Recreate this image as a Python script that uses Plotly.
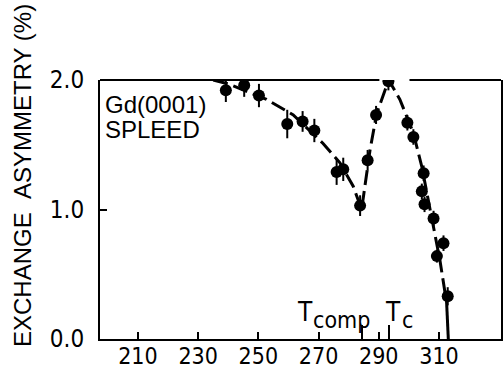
import plotly.graph_objects as go

# measured data points (temperature K, exchange asymmetry %)
temperature = [239.2, 245.3, 250.2, 259.6, 264.7, 268.6, 276.0, 278.2, 283.8, 286.3,
               289.1, 293.2, 299.5, 301.5, 304.9, 304.3, 305.2, 308.2, 311.5, 309.3, 312.9]
asymmetry = [1.92, 1.96, 1.88, 1.66, 1.68, 1.61, 1.29, 1.31, 1.03, 1.38,
             1.73, 1.99, 1.67, 1.56, 1.28, 1.14, 1.04, 0.93, 0.74, 0.64, 0.33]
error = [0.09, 0.09, 0.09, 0.11, 0.08, 0.09, 0.10, 0.09, 0.08, 0.08,
         0.07, 0.07, 0.06, 0.06, 0.06, 0.06, 0.06, 0.06, 0.06, 0.05, 0.07]

# dashed guide curve
curve_t = [235.0, 240.0, 252.7, 261.6, 271.5, 277.1, 281.5, 284.3, 285.4, 287.1,
           289.3, 293.3, 297.0, 301.5, 304.3, 306.5, 308.7, 310.3, 312.0, 312.5]
curve_a = [2.00, 1.97, 1.85, 1.73, 1.51, 1.36, 1.18, 1.00, 1.18, 1.46,
           1.74, 2.00, 1.85, 1.59, 1.33, 1.07, 0.82, 0.61, 0.36, 0.30]
tail_t = [312.5, 312.9, 313.1]
tail_a = [0.30, 0.15, 0.0]

x_ticks = [210, 230, 250, 270, 290, 310]
x_ticklabels = ["210", "230", "250", "270", "290", "310"]
y_ticks = [0.0, 1.0, 2.0]
y_ticklabels = ["0.0", "1.0", "2.0"]
t_comp = 284.5
t_c = 293.3

NARROW = "Liberation Sans Narrow, Arial Narrow, DejaVu Sans Condensed, sans-serif"
SANS = "Liberation Sans, Arial, Helvetica, sans-serif"


def px_x(px):
    return (px - 100) / 401.0


def px_y(py):
    return (339 - py) / 259.0


fig = go.Figure()
fig.add_trace(go.Scatter(x=curve_t, y=curve_a, mode="lines",
                         line=dict(color="black", width=3, dash="15px,6px"),
                         hoverinfo="skip", showlegend=False))
fig.add_trace(go.Scatter(x=tail_t, y=tail_a, mode="lines",
                         line=dict(color="black", width=3),
                         hoverinfo="skip", showlegend=False))
fig.add_trace(go.Scatter(x=temperature, y=asymmetry, mode="markers",
                         marker=dict(color="black", size=12),
                         error_y=dict(type="data", array=error, color="black",
                                      thickness=2, width=0),
                         showlegend=False))

xmin, xmax = 197.4, 330.6
# top frame with a gap at the peak
fig.add_shape(type="line", xref="x", yref="paper", x0=xmin, x1=290.2, y0=1, y1=1,
              line=dict(color="black", width=2))
fig.add_shape(type="line", xref="x", yref="paper", x0=300.2, x1=xmax, y0=1, y1=1,
              line=dict(color="black", width=2))


def label(text, px, py, family, size, xanchor="left"):
    fig.add_annotation(text=text, xref="paper", yref="paper", x=px_x(px), y=px_y(py),
                       xanchor=xanchor, yanchor="middle", showarrow=False,
                       borderpad=0, font=dict(family=family, size=size, color="black"))


label("Gd(0001)", 104, 104, SANS, 24)
label("SPLEED", 104, 129, SANS, 24)
label("T", 304.5, 312, NARROW, 26, "center")
label("comp", 312, 320, NARROW, 23)
label("T", 392.5, 312, NARROW, 26, "center")
label("c", 401, 320, NARROW, 23)

fig.add_annotation(text="EXCHANGE&nbsp;&nbsp;ASYMMETRY (%)", xref="paper", yref="paper",
                   x=px_x(22), y=px_y(176), xanchor="center", yanchor="middle",
                   textangle=-90, showarrow=False,
                   font=dict(family=SANS, size=24, color="black"))

fig.update_xaxes(range=[xmin, xmax], tickmode="array", tickvals=x_ticks,
                 ticktext=x_ticklabels, ticks="inside", ticklen=7, tickwidth=2,
                 tickcolor="black", showline=True, linecolor="black", linewidth=2,
                 mirror=False, showgrid=False, zeroline=False, automargin=False,
                 ticklabelstandoff=-5,
                 tickfont=dict(family=NARROW, size=23, color="black"),
                 minor=dict(tickmode="array", tickvals=[t_comp, t_c], ticks="inside",
                            ticklen=14, tickwidth=2, tickcolor="black", showgrid=False))
fig.update_yaxes(range=[0, 2.0], tickmode="array", tickvals=y_ticks,
                 ticktext=y_ticklabels, ticks="inside", ticklen=7, tickwidth=2,
                 tickcolor="black", showline=True, linecolor="black", linewidth=2,
                 mirror=True, showgrid=False, zeroline=False, automargin=False,
                 ticklabelstandoff=9,
                 tickfont=dict(family=NARROW, size=24, color="black"))

fig.update_layout(width=503, height=370, margin=dict(l=100, r=2, t=80, b=31),
                  plot_bgcolor="white", paper_bgcolor="white")

fig.write_html("out.html", config={"displayModeBar": False},
               post_script="document.body.style.margin='0';"
                           "document.body.style.overflow='hidden';")
